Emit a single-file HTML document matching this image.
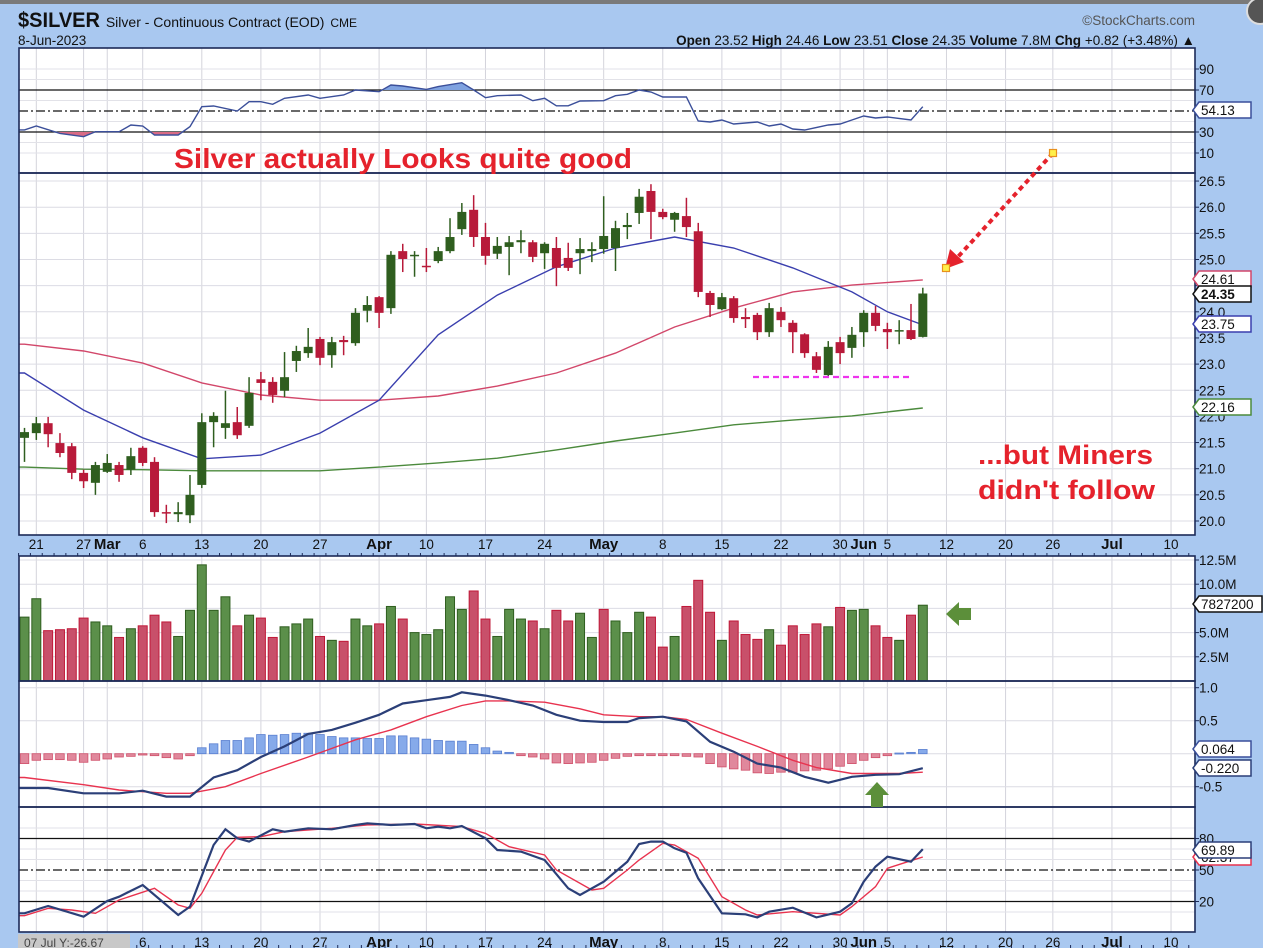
<!DOCTYPE html>
<html><head><meta charset="utf-8">
<style>
html,body{margin:0;padding:0;background:#a9c8f0;width:1263px;height:948px;overflow:hidden;font-family:"Liberation Sans",sans-serif;}
svg{display:block}
</style></head>
<body>
<svg id="chart" width="1263" height="948" viewBox="0 0 1263 948" xmlns="http://www.w3.org/2000/svg" font-family="Liberation Sans, sans-serif">
<rect x="0" y="0" width="1263" height="948" fill="#a9c8f0"/>
<rect x="0" y="0" width="1263" height="4" fill="#7a7a7a"/>
<circle cx="1260" cy="11" r="13" fill="#555" stroke="#ddd" stroke-width="2"/>
<text x="18" y="27" font-size="21" font-weight="bold" fill="#111"><tspan textLength="82" lengthAdjust="spacingAndGlyphs">$SILVER</tspan> <tspan font-size="14" font-weight="normal">Silver - Continuous Contract (EOD)</tspan> <tspan font-size="12" font-weight="normal">CME</tspan></text>
<text x="18" y="45" font-size="13.5" fill="#111">8-Jun-2023</text>
<text x="1195" y="25" font-size="13.5" fill="#555" text-anchor="end">©StockCharts.com</text>
<text x="1195" y="45" font-size="13.5" fill="#111" text-anchor="end"><tspan font-weight="bold">Open</tspan> 23.52 <tspan font-weight="bold">High</tspan> 24.46 <tspan font-weight="bold">Low</tspan> 23.51 <tspan font-weight="bold">Close</tspan> 24.35 <tspan font-weight="bold">Volume</tspan> 7.8M <tspan font-weight="bold">Chg</tspan> +0.82 (+3.48%) ▲</text>
<g id="g"></g>
</svg>
<script>
const open=[21.59,21.68,21.87,21.49,21.43,20.92,20.73,20.94,21.07,20.98,21.40,21.13,20.17,20.13,20.11,20.69,21.89,21.78,21.89,21.82,22.71,22.66,22.49,23.06,23.21,23.48,23.17,23.46,23.40,24.02,24.28,24.07,25.16,25.07,24.88,24.97,25.16,25.58,25.95,25.43,25.11,25.24,25.33,25.33,25.12,25.22,25.03,25.12,25.16,25.20,25.22,25.62,25.89,26.31,25.91,25.76,25.83,25.54,24.36,24.05,24.26,23.90,23.94,23.61,24.00,23.79,23.57,23.15,22.79,23.42,23.31,23.61,23.98,23.67,23.63,23.65,23.52];
const high=[21.78,21.99,21.99,21.68,21.49,20.98,21.13,21.28,21.13,21.40,21.43,21.22,20.31,20.36,20.88,22.06,22.08,22.49,22.18,22.75,22.85,22.75,23.23,23.35,23.69,23.52,23.52,23.54,24.07,24.30,24.30,25.16,25.30,25.16,25.22,25.24,25.79,26.08,26.23,25.70,25.43,25.45,25.56,25.37,25.33,25.43,25.32,25.41,25.33,26.21,25.74,25.89,26.35,26.44,25.97,25.91,26.18,25.70,24.40,24.36,24.30,24.07,23.98,24.17,24.09,23.84,23.59,23.23,23.44,23.52,23.71,24.03,24.11,23.79,23.84,24.15,24.46];
const low=[21.13,21.55,21.41,21.22,20.80,20.63,20.50,20.92,20.75,20.88,21.05,20.08,19.96,19.98,19.96,20.63,21.41,21.57,21.57,21.78,22.31,22.26,22.37,22.85,23.12,22.98,22.93,23.17,23.35,23.80,23.69,23.96,24.76,24.67,24.76,24.93,25.12,25.47,25.24,24.90,25.01,24.70,25.12,24.95,24.82,24.49,24.78,24.72,24.95,25.11,24.78,25.39,25.68,25.39,25.77,25.53,25.43,24.28,23.90,24.03,23.79,23.69,23.46,23.52,23.71,23.21,23.12,22.83,22.75,23.00,23.12,23.33,23.63,23.29,23.38,23.46,23.51];
const close=[21.70,21.87,21.66,21.30,20.92,20.76,21.07,21.11,20.88,21.24,21.11,20.17,20.15,20.17,20.50,21.89,22.01,21.87,21.64,22.45,22.64,22.41,22.75,23.25,23.33,23.12,23.42,23.42,23.98,24.13,23.98,25.09,25.01,25.09,24.86,25.16,25.43,25.91,25.43,25.07,25.26,25.33,25.37,25.05,25.30,24.84,24.84,25.20,25.20,25.45,25.60,25.66,26.20,25.91,25.81,25.89,25.62,24.38,24.13,24.28,23.88,23.86,23.61,24.07,23.84,23.61,23.21,22.89,23.33,23.21,23.56,23.98,23.73,23.61,23.65,23.48,24.35];
const volume=[6.6,8.5,5.2,5.3,5.4,6.5,6.1,5.7,4.5,5.4,5.7,6.8,6.1,4.6,7.3,12.0,7.3,8.7,5.7,6.8,6.5,4.5,5.6,5.9,6.4,4.6,4.2,4.1,6.4,5.7,5.9,7.7,6.4,5.0,4.8,5.3,8.7,7.4,9.3,6.4,4.6,7.4,6.4,6.2,5.4,7.3,6.2,7.0,4.5,7.4,6.2,5.0,7.1,6.6,3.5,4.6,7.7,10.4,7.1,4.2,6.2,4.8,4.3,5.3,3.7,5.7,4.8,5.9,5.6,7.6,7.3,7.4,5.7,4.5,4.2,6.8,7.83];
const volColor="GGRRRRGGRGRRRGGGGGRGRRGGGRGRGGRGRGGGGGRRGGGRGRRGGRGGGRRGRRRGRRRGRRRRGRGGRRGRG";
const maIdx20=[0,5,10,15,20,25,30,35,40,45,50,55,60,65,70,73,76];
const ma20=[22.83,22.12,21.59,21.19,21.26,21.68,22.31,23.56,24.32,24.86,25.22,25.43,25.22,24.84,24.38,24.00,23.75];
const maIdx=[0,5,10,15,20,25,30,35,40,45,50,55,60,65,70,76];
const ma50=[23.38,23.25,23.02,22.64,22.41,22.31,22.31,22.39,22.58,22.83,23.21,23.71,24.07,24.38,24.51,24.61];
const ma200=[21.03,20.99,20.98,20.96,20.96,20.96,21.03,21.11,21.20,21.36,21.53,21.68,21.84,21.93,22.01,22.16];
const rsiIdx=[0,1,3,5,6,8,9,10,11,13,14,15,16,18,19,20,21,22,24,25,27,28,30,31,32,34,35,37,38,39,40,42,43,44,45,46,47,49,50,51,52,53,54,56,57,58,59,60,62,63,64,65,66,68,69,70,71,72,73,75,76];
const rsiVal=[32,35.7,28.7,25.5,30.3,30.3,36.7,35.7,27.1,27.1,35.1,54.1,54.8,50,58.9,58.9,56.4,62.1,65.2,62.1,65.2,70,68.4,74.8,73.8,70.6,73.2,77,70,62.7,64.6,65.2,59.8,62.1,55,55,59.5,59.8,64.6,65.9,70,68.1,63.3,63.3,40.5,39.5,41.4,37.6,39.5,35.7,37.6,32.9,31.9,36.7,37.6,41.4,45.2,43.3,44.3,41.4,54.13];
const macdIdx=[0,2,5,8,10,12,14,16,18,20,22,24,26,28,30,32,34,36,37,39,41,43,45,47,49,51,52,54,56,58,60,62,64,66,68,70,72,74,76];
const macdVal=[-0.52,-0.52,-0.60,-0.60,-0.56,-0.65,-0.65,-0.36,-0.25,-0.05,0.11,0.30,0.36,0.47,0.59,0.76,0.81,0.86,0.93,0.88,0.81,0.73,0.59,0.50,0.48,0.48,0.54,0.56,0.49,0.18,0.03,-0.15,-0.21,-0.35,-0.44,-0.35,-0.32,-0.31,-0.22];
const signalIdx=[0,5,8,12,14,17,20,24,28,31,34,37,39,41,44,47,49,52,54,56,59,62,65,67,70,74,76];
const signalVal=[-0.36,-0.47,-0.55,-0.60,-0.60,-0.50,-0.30,-0.05,0.21,0.36,0.56,0.73,0.80,0.80,0.78,0.68,0.59,0.56,0.56,0.52,0.31,0.11,-0.10,-0.21,-0.30,-0.30,-0.28];
const hist=[-0.15,-0.10,-0.09,-0.09,-0.10,-0.13,-0.10,-0.08,-0.05,-0.04,-0.02,-0.03,-0.06,-0.08,-0.03,0.09,0.15,0.20,0.20,0.24,0.29,0.28,0.29,0.31,0.31,0.29,0.26,0.24,0.24,0.23,0.23,0.27,0.27,0.24,0.22,0.20,0.19,0.19,0.14,0.09,0.04,0.02,-0.03,-0.05,-0.08,-0.14,-0.15,-0.14,-0.13,-0.10,-0.07,-0.04,-0.03,-0.03,-0.03,-0.03,-0.04,-0.05,-0.15,-0.20,-0.23,-0.25,-0.29,-0.30,-0.28,-0.28,-0.26,-0.25,-0.23,-0.19,-0.15,-0.10,-0.06,-0.03,0.01,0.02,0.064];
const kIdx=[0,2,5,7,8,10,13,14,16,17,18,19,21,22,24,26,28,29,31,33,34,35,36,37,39,40,42,44,46,47,49,51,52,53,54,55,56,57,59,61,62,63,65,67,69,70,71,72,73,75,76];
const kVal=[8.8,15.7,5.5,20.5,24.6,35.7,7.1,15.1,73.8,88.8,80.2,77.0,88.8,86.5,89.7,88.8,92.9,94.5,92.9,93.8,89.7,91.3,89.7,91.9,80.2,69,67.5,59.5,32.6,26.2,38.9,57.9,74.8,77.0,77.0,70.7,66.5,42,8.8,7.8,4.9,10.3,14.1,4.9,10.3,18.3,38.9,53.2,62.7,57.9,69.89];
const dIdx=[0,2,4,6,8,11,13,14,15,17,18,20,22,26,29,33,37,39,41,44,45,48,49,51,52,54,55,57,59,61,62,65,67,69,70,72,73,75,76];
const dVal=[6.5,13.5,11.9,8.8,21.4,32.6,16.7,13.5,27.8,69,81.1,81.7,86.5,89.7,93,93.8,91.3,84.9,72.2,64.3,50,31,32.6,50,59.5,75.4,73.8,61.1,24.6,11.9,7.1,10.3,8.8,7.1,15.1,34.1,51.6,58.9,62.37];
const tickIdx=[1,5,7,10,15,20,25,30,34,39,44,49,54,59,64,69,71,73,78,83,87,92,97];
const tickLbl=["21","27","Mar","6","13","20","27","Apr","10","17","24","May","8","15","22","30","Jun","5","12","20","26","Jul","10"];
const priceTicks=[20.0,20.5,21.0,21.5,22.0,22.5,23.0,23.5,24.0,24.5,25.0,25.5,26.0,26.5];
const volTicks=[2.5,5.0,7.5,10.0,12.5];
const macdTicks=[-0.5,0,0.5,1.0];

const NS="http://www.w3.org/2000/svg";
const G=document.getElementById('g');
const L=19,R=1195;
const xi=i=>24.5+i*11.82;
const py=p=>521-(p-20)*52.3;
const ry=v=>90+(70-v)*1.05;
const vy=m=>681-m*9.68;
const my=v=>753.7-v*66;
const sy=v=>870-(v-50)*1.05;
function el(tag,attrs,parent){const e=document.createElementNS(NS,tag);for(const k in attrs)e.setAttribute(k,attrs[k]);(parent||G).appendChild(e);return e;}
function txt(x,y,s,attrs){const e=el('text',Object.assign({x:x,y:y,'font-size':12.5,fill:'#111'},attrs||{}));e.textContent=s;return e;}

const panels=[[48,173,'rsi-panel'],[173,535,'price-panel'],[556,681,'volume-panel'],[681,807,'macd-panel'],[807,932,'stochastic-panel']];
panels.forEach(p=>{
  const r=el('rect',{x:L,y:p[0],width:R-L,height:p[1]-p[0],fill:'#fff'});
  
  
});
tickIdx.forEach((t,k)=>{
  [[48,535],[556,932]].forEach(s=>{
    const ln=el('line',{x1:xi(t),x2:xi(t),y1:s[0],y2:s[1],stroke:'#d4d4dc','stroke-width':1});
    
    
  });
});
function hgrid(y,col,w,dash,name){const ln=el('line',{x1:L,x2:R,y1:y,y2:y,stroke:col,'stroke-width':w});if(dash)ln.setAttribute('stroke-dasharray',dash);return ln;}
priceTicks.forEach(p=>hgrid(py(p),'#dcdce4',1,null,'price-gridline'));
volTicks.forEach(v=>hgrid(vy(v),'#dcdce4',1,null,'volume-gridline'));
macdTicks.forEach(v=>hgrid(my(v),'#dcdce4',1,null,'macd-gridline'));
[10,20,40,60,80,90].forEach(v=>hgrid(ry(v),'#e2e2e8',1,null,'rsi-gridline'));
[10,30,40,60,70,90].forEach(v=>hgrid(sy(v),'#e2e2e8',1,null,'stoch-gridline'));
[70,30].forEach(v=>hgrid(ry(v),'#111',1.2,null,'rsi-level-line'));
hgrid(ry(50),'#111',1.2,'9,3,2,3','rsi-midline');
[80,20].forEach(v=>hgrid(sy(v),'#111',1.2,null,'stoch-level-line'));
hgrid(sy(50),'#111',1.2,'9,3,2,3','stoch-midline');

function pathFrom(idx,vals,fy,extendLeft){let d='';idx.forEach((i,k)=>{d+=(k?'L':'M')+xi(i).toFixed(1)+','+fy(vals[k]).toFixed(1);});if(extendLeft)d='M'+L+','+fy(vals[0]).toFixed(1)+'L'+d.slice(1);return d;}

const defs=el('defs',{});
const c1=el('clipPath',{id:'above70'},defs);el('rect',{x:L,y:48,width:R-L,height:ry(70)-48},c1);
const c2=el('clipPath',{id:'below30'},defs);el('rect',{x:L,y:ry(30),width:R-L,height:173-ry(30)},c2);
const rsiD=pathFrom(rsiIdx,rsiVal,ry,true);
const lastX=xi(rsiIdx[rsiIdx.length-1]);
const fa=el('path',{d:rsiD+'L'+lastX+','+ry(70)+'L'+L+','+ry(70)+'Z',fill:'#7fa2e0','clip-path':'url(#above70)'});


const fb=el('path',{d:rsiD+'L'+lastX+','+ry(30)+'L'+L+','+ry(30)+'Z',fill:'#d86a84','clip-path':'url(#below30)'});


const rl=el('path',{d:rsiD,fill:'none',stroke:'#3b4f9a','stroke-width':1.4});



const m200=el('path',{d:pathFrom(maIdx,ma200,py,true),fill:'none',stroke:'#4b8a3c','stroke-width':1.4});


const m50=el('path',{d:pathFrom(maIdx,ma50,py,true),fill:'none',stroke:'#d2476a','stroke-width':1.4});


const m20=el('path',{d:pathFrom(maIdx20,ma20,py,true),fill:'none',stroke:'#3a3fae','stroke-width':1.4});



open.forEach((o,i)=>{
  const c=close[i],up=c>=o,col=up?'#2f5e1f':'#b81a3a';
  const x=xi(i);
  const w=el('line',{x1:x,x2:x,y1:py(high[i]),y2:py(low[i]),stroke:col,'stroke-width':1.5});
  
  
  const top=py(Math.max(o,c)),h=Math.max(1.5,Math.abs(py(o)-py(c)));
  const b=el('rect',{x:x-4.5,y:top,width:9,height:h,fill:col});
  
  
});

const sup=el('line',{x1:753,x2:912,y1:377,y2:377,stroke:'#ee33ee','stroke-width':2.2,'stroke-dasharray':'6,4'});



volume.forEach((v,i)=>{
  const g=volColor[i]==='G';
  const r=el('rect',{x:xi(i)-4.5,y:vy(v),width:9,height:681-vy(v),fill:g?'#5b8f4a':'#c8506a',stroke:g?'#2f5e1f':'#c01838','stroke-width':1});
  
  
});

hist.forEach((v,i)=>{
  const y0=my(0),y1=my(v);
  const pos=v>=0;
  const r=el('rect',{x:xi(i)-4.3,y:Math.min(y0,y1),width:8.6,height:Math.max(1,Math.abs(y1-y0)),fill:pos?'#86aaea':'#e0889c',stroke:pos?'#5a7fd0':'#d0506a','stroke-width':0.8});
  
  
});
const sg=el('path',{d:pathFrom(signalIdx,signalVal,my,true),fill:'none',stroke:'#e8334f','stroke-width':1.4});


const mc=el('path',{d:pathFrom(macdIdx,macdVal,my,true),fill:'none',stroke:'#2b3f78','stroke-width':2.2});



const sd=el('path',{d:pathFrom(dIdx,dVal,sy,true),fill:'none',stroke:'#e8334f','stroke-width':1.4});


const sk=el('path',{d:pathFrom(kIdx,kVal,sy,true),fill:'none',stroke:'#2b3f78','stroke-width':2.2});



[[48,173],[173,535],[556,681],[681,807],[807,932]].forEach(p=>{
  const r=el('rect',{x:L,y:p[0],width:R-L,height:p[1]-p[0],fill:'none',stroke:'#1c2a58','stroke-width':1.6});
  
  
});

[[535,556,549],[932,948,947]].forEach((a,ai)=>{
  for(let i=-0.5;i<99;i++){
    const t=el('line',{x1:xi(i),x2:xi(i),y1:a[1]-3,y2:a[1],stroke:'#1c2a58','stroke-width':1});
    
    
  }
  tickIdx.forEach((t,k)=>{
    const bold=isNaN(+tickLbl[k]);
    const e=txt(xi(t),a[2],tickLbl[k],{'text-anchor':'middle','font-size':bold?15:13.5,'font-weight':bold?'bold':'normal'});
    
    
  });
});
const gb=el('rect',{x:18,y:934,width:112,height:14,fill:'#c8c8c8'});


const gt=txt(24,947,'07 Jul Y:-26.67',{'font-size':12,fill:'#444'});



function ylab(y,s,name){
  const t=el('line',{x1:R,x2:R+4,y1:y,y2:y,stroke:'#1c2a58','stroke-width':1});
  
  
  const e=txt(R+4,y+5,s,{'font-size':13.5});
  
  
}
[90,70,30,10].forEach(v=>ylab(ry(v),String(v),'rsi-axis-label'));
priceTicks.forEach(p=>ylab(py(p),p.toFixed(1),'price-axis-label'));
[12.5,10.0,5.0,2.5].forEach(v=>ylab(vy(v),v.toFixed(1)+'M','volume-axis-label'));
[1.0,0.5,-0.5].forEach(v=>ylab(my(v),v.toFixed(1),'macd-axis-label'));
[80,50,20].forEach(v=>ylab(sy(v),String(v),'stoch-axis-label'));

function tag(y,s,col,bold,name,w){
  w=w||52;
  const g=el('g',{});
  
  
  el('path',{d:`M${R-2},${y}L${R+4},${y-8}H${R+4+w}V${y+8}H${R+4}Z`,fill:'#fff',stroke:col,'stroke-width':1.5},g);
  const e=document.createElementNS(NS,'text');
  e.setAttribute('x',R+6);e.setAttribute('y',y+5);e.setAttribute('font-size',13.5);e.setAttribute('fill','#111');
  if(bold)e.setAttribute('font-weight','bold');
  e.textContent=s;g.appendChild(e);
}
tag(110,'54.13','#3a4f9a',false,'rsi-value-tag');
tag(279,'24.61','#d2476a',false,'ma50-value-tag');
tag(294,'24.35','#111',true,'close-value-tag');
tag(324,'23.75','#3a3fae',false,'ma20-value-tag');
tag(407,'22.16','#4b8a3c',false,'ma200-value-tag');
tag(604,'7827200','#111',false,'volume-value-tag',63);
tag(749,'0.064','#3a4f9a',false,'histogram-value-tag');
tag(768,'-0.220','#2b3f78',false,'macd-value-tag');
tag(857,'62.37','#e8334f',false,'stoch-d-value-tag');
tag(850,'69.89','#2b3f78',false,'stoch-k-value-tag');

const a1=txt(174,168,'Silver actually Looks quite good',{'font-size':28,'font-weight':'bold',fill:'#e5222c',textLength:458,lengthAdjust:'spacingAndGlyphs'});


const a2=txt(978,464,'...but Miners',{'font-size':27,'font-weight':'bold',fill:'#e5222c',textLength:175,lengthAdjust:'spacingAndGlyphs'});


const a3=txt(978,499,"didn't follow",{'font-size':27,'font-weight':'bold',fill:'#e5222c',textLength:177,lengthAdjust:'spacingAndGlyphs'});


const ar=el('line',{x1:1053,y1:153,x2:956,y2:259,stroke:'#e5222c','stroke-width':4,'stroke-dasharray':'5,4'});


const ah=el('polygon',{points:'945,269 950,249 964,262',fill:'#e5222c'});


[[1053,153],[946,268]].forEach(p=>{
  const s=el('rect',{x:p[0]-3.5,y:p[1]-3.5,width:7,height:7,fill:'#fff04a',stroke:'#e8901c','stroke-width':1.2});
  
  
});
const ga=el('polygon',{points:'946,614 959,602 959,608 971,608 971,620 959,620 959,626',fill:'#5c8f3a'});


const gu=el('polygon',{points:'877,782 889,795 883,795 883,807 871,807 871,795 865,795',fill:'#5c8f3a'});


</script>
</body></html>
